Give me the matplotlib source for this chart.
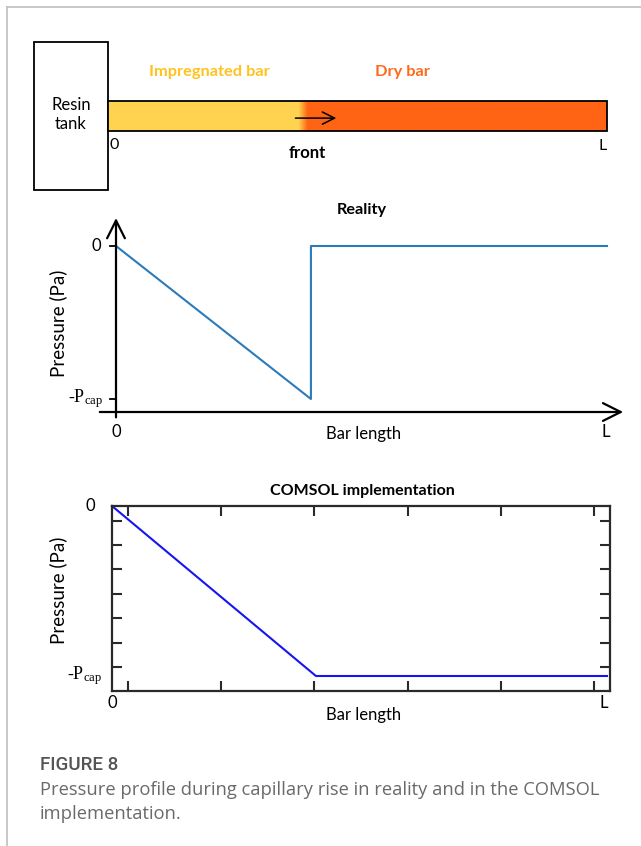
import numpy as np
import matplotlib
matplotlib.use("Agg")
import matplotlib.pyplot as plt
from matplotlib.patches import Rectangle
from matplotlib.lines import Line2D
from matplotlib.colors import to_rgb

W, H = 641, 846

# bar positions, in units of bar length L
tank_width = 0.148
front_reality = 0.397
front_comsol = 0.412

# pressure profiles (0 = atmospheric, -1 = -Pcap)
reality_x = [0, front_reality, front_reality, 1.0]
reality_p = [0, -1, 0, 0]
comsol_x = [0, front_comsol, 1.0]
comsol_p = [0, -1, -1]

# inner tick marks of the COMSOL plot
comsol_xticks = [0.032, 0.220, 0.408, 0.598, 0.786, 0.974]
comsol_yticks = [-0.088, -0.229, -0.371, -0.518, -0.659, -0.806, -0.947]

pcap_label = r"-P$\mathregular{_{cap}}$"
caption_title = "FIGURE 8"
caption_lines = ["Pressure profile during capillary rise in reality and in the COMSOL",
                 "implementation."]

yellow = "#FFD350"
orange = "#FF6414"
font = "Lato"


def rect(x0, y0, x1, y1):
    return [x0 / W, 1 - y1 / H, (x1 - x0) / W, (y1 - y0) / H]


fig = plt.figure(figsize=(W / 100, H / 100), dpi=100)

# grey frame
fig.add_artist(Line2D([7 / W, 1], [1 - 7 / H, 1 - 7 / H], color="#c4c4c4", lw=1.3))
fig.add_artist(Line2D([7 / W, 7 / W], [0, 1 - 7 / H], color="#c4c4c4", lw=1.3))

# ---- schematic of the bar ----
ax0 = fig.add_axes(rect(20, 30, 630, 200))
ax0.set_xlim(-88 / 499, 522 / 499)
ax0.set_ylim(-2.3, 101 / 30)
ax0.axis("off")

ax0.add_patch(Rectangle((-tank_width, -59 / 30), tank_width, 148 / 30,
                        fill=False, ec="black", lw=1.3))
ax0.text(-tank_width / 2, 0.55, "Resin\ntank", ha="center", va="center",
         fontsize=12, family=font, linespacing=1.3)

xs = np.linspace(0, 1, 800)
t = np.clip((xs - (front_reality - 0.015)) / 0.018, 0, 1)
c1, c2 = np.array(to_rgb(yellow)), np.array(to_rgb(orange))
grad = (1 - t)[:, None] * c1 + t[:, None] * c2
ax0.imshow(grad[None, :, :], extent=[0, 1, 0, 1], aspect="auto", zorder=1)
ax0.add_patch(Rectangle((0, 0), 1, 1, fill=False, ec="black", lw=1.3, zorder=2))
ax0.annotate("", xy=(0.463, 0.43), xytext=(0.37, 0.43),
             arrowprops=dict(arrowstyle="->", lw=1.1, color="black", mutation_scale=22))

ax0.text(0.204, 1.97, "Impregnated bar", ha="center", va="center", fontsize=11.8,
         fontweight="bold", color="#FFC21F", family=font)
ax0.text(0.591, 1.97, "Dry bar", ha="center", va="center", fontsize=11.8,
         fontweight="bold", color="#FF6A1A", family=font)
ax0.text(0.004, -0.47, "0", ha="left", va="center", fontsize=11.5, family=font)
ax0.text(0.399, -0.73, "front", ha="center", va="center", fontsize=12,
         fontweight="bold", family=font)
ax0.text(0.992, -0.5, "L", ha="center", va="center", fontsize=11.5, family=font)

# ---- Reality ----
ax1 = fig.add_axes(rect(95, 205, 630, 445))
ax1.set_xlim(-21 / 491, 514 / 491)
ax1.set_ylim(-199 / 153, 41 / 153)
ax1.axis("off")
ax1.annotate("", xy=(0, 0.183), xytext=(0, -1.12),
             arrowprops=dict(arrowstyle="->", lw=1.6, color="black", mutation_scale=32,
                             shrinkA=0, shrinkB=0))
ax1.annotate("", xy=(1.033, -1.085), xytext=(-0.033, -1.085),
             arrowprops=dict(arrowstyle="->", lw=1.6, color="black", mutation_scale=32,
                             shrinkA=0, shrinkB=0))
for p in [0, -1]:
    ax1.plot([-0.013, 0], [p, p], color="black", lw=1.3)
ax1.plot(reality_x, reality_p, color="#2B7BBA", lw=1.5)
ax1.text(-0.03, 0, "0", ha="right", va="center", fontsize=12, family=font)
ax1.text(-0.026, -1, pcap_label, ha="right", va="center", fontsize=13,
         family="Liberation Serif")
ax1.text(0, -1.215, "0", ha="center", va="center", fontsize=12, family=font)
ax1.text(0.998, -1.215, "L", ha="center", va="center", fontsize=12, family=font)
ax1.text(0.504, -1.23, "Bar length", ha="center", va="center", fontsize=12, family=font)
ax1.text(-0.118, -0.503, "Pressure (Pa)", ha="center", va="center", rotation=90,
         fontsize=13.5, family=font)
ax1.text(0.501, 0.235, "Reality", ha="center", va="center", fontsize=11.7,
         fontweight="bold", family=font)

# ---- COMSOL implementation ----
ax2 = fig.add_axes(rect(112, 506, 610, 691))
ax2.set_xlim(0, 498 / 495)
ax2.set_ylim(-185 / 170, 0)
ax2.plot(comsol_x, comsol_p, color="#1515F0", lw=1.5, clip_on=False)
for s in ax2.spines.values():
    s.set_linewidth(1.6)
    s.set_color("#2a2a2a")
ax2.set_xticks(comsol_xticks)
ax2.set_yticks(comsol_yticks)
ax2.tick_params(direction="in", length=7, width=1.5, color="#2a2a2a",
                top=True, right=True, labelbottom=False, labelleft=False)
ax2.text(-0.034, 0, "0", ha="right", va="center", fontsize=12, family=font)
ax2.text(-0.02, -1, pcap_label, ha="right", va="center", fontsize=13,
         family="Liberation Serif")
ax2.text(0, -1.16, "0", ha="center", va="center", fontsize=12, family=font)
ax2.text(0.994, -1.16, "L", ha="center", va="center", fontsize=12, family=font)
ax2.text(0.509, -1.229, "Bar length", ha="center", va="center", fontsize=12, family=font)
ax2.text(-0.109, -0.494, "Pressure (Pa)", ha="center", va="center", rotation=90,
         fontsize=13.5, family=font)
ax2.text(0.505, 0.088, "COMSOL implementation", ha="center", va="center",
         fontsize=11.5, fontweight="bold", family=font)

# ---- caption ----
fig.text(40 / W, 1 - 765 / H, caption_title, ha="left", va="center", fontsize=13.5,
         color="#555555", family="Roboto", fontweight="medium")
for i, line in enumerate(caption_lines):
    fig.text(40 / W, 1 - (790 + 24 * i) / H, line, ha="left", va="center",
             fontsize=13.2, color="#6a6a6a", family="Open Sans")

fig.savefig("out.png", dpi=100)
